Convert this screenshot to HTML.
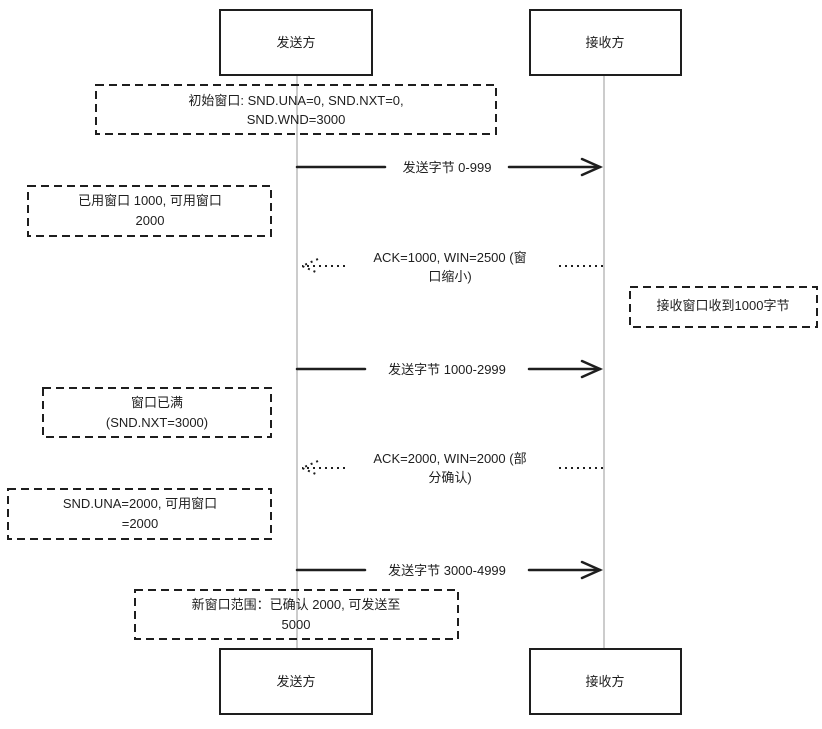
<!DOCTYPE html>
<html><head><meta charset="utf-8"><style>
html,body{margin:0;padding:0;background:#fff;}
svg text{font-family:"Liberation Sans","Noto Sans CJK SC",sans-serif;font-size:13px;fill:#1e1e1e;}
</style></head><body>
<svg width="822" height="724" viewBox="0 0 822 724" xmlns="http://www.w3.org/2000/svg">
<g stroke="#b0b0b0" stroke-width="1.3">
<line x1="297" y1="75" x2="297" y2="648"/>
<line x1="604" y1="75" x2="604" y2="648"/>
</g>
<g fill="#fff" stroke="#1e1e1e" stroke-width="2">
<rect x="220" y="10" width="152" height="65"/>
<rect x="530" y="10" width="151" height="65"/>
<rect x="220" y="649" width="152" height="65"/>
<rect x="530" y="649" width="151" height="65"/>
</g>
<g text-anchor="middle">
<text x="296" y="47">发送方</text><text x="605" y="47">接收方</text>
<text x="296" y="686">发送方</text><text x="605" y="686">接收方</text>
</g>
<g fill="none" stroke="#1e1e1e" stroke-width="2" stroke-dasharray="8 5">
<rect x="96" y="85" width="400" height="49"/>
<rect x="28" y="186" width="243" height="50"/>
<rect x="630" y="287" width="187" height="40"/>
<rect x="43" y="388" width="228" height="49"/>
<rect x="8" y="489" width="263" height="50"/>
<rect x="135" y="590" width="323" height="49"/>
</g>
<g text-anchor="middle">
<text x="296" y="105">初始窗口: SND.UNA=0, SND.NXT=0,</text>
<text x="296" y="124">SND.WND=3000</text>
<text x="150" y="205">已用窗口 1000, 可用窗口</text>
<text x="150" y="225">2000</text>
<text x="723" y="310">接收窗口收到1000字节</text>
<text x="157" y="407">窗口已满</text>
<text x="157" y="427">(SND.NXT=3000)</text>
<text x="140" y="508">SND.UNA=2000, 可用窗口</text>
<text x="140" y="528">=2000</text>
<text x="296" y="609">新窗口范围：已确认 2000, 可发送至</text>
<text x="296" y="629">5000</text>
</g>
<g stroke="#1e1e1e" stroke-width="2.5" fill="none" stroke-linecap="round">
<line x1="297" y1="167" x2="385" y2="167"/><line x1="509" y1="167" x2="600" y2="167"/>
<polyline points="582,159 600,167 582,175"/>
<line x1="297" y1="369" x2="365" y2="369"/><line x1="529" y1="369" x2="600" y2="369"/>
<polyline points="582,361 600,369 582,377"/>
<line x1="297" y1="570" x2="365" y2="570"/><line x1="529" y1="570" x2="600" y2="570"/>
<polyline points="582,562 600,570 582,578"/>
</g>
<g stroke="#1e1e1e" stroke-width="2" fill="none" stroke-dasharray="2 4">
<line x1="603" y1="266" x2="555" y2="266"/><line x1="345" y1="266" x2="302" y2="266"/>
<polyline points="318,259 302,266 318,273"/>
<line x1="603" y1="468" x2="555" y2="468"/><line x1="345" y1="468" x2="302" y2="468"/>
<polyline points="318,461 302,468 318,475"/>
</g>
<g text-anchor="middle">
<text x="447" y="172">发送字节 0-999</text>
<text x="447" y="374">发送字节 1000-2999</text>
<text x="447" y="575">发送字节 3000-4999</text>
<text x="450" y="262">ACK=1000, WIN=2500 (窗</text>
<text x="450" y="281">口缩小)</text>
<text x="450" y="463">ACK=2000, WIN=2000 (部</text>
<text x="450" y="482">分确认)</text>
</g>
</svg>
</body></html>
